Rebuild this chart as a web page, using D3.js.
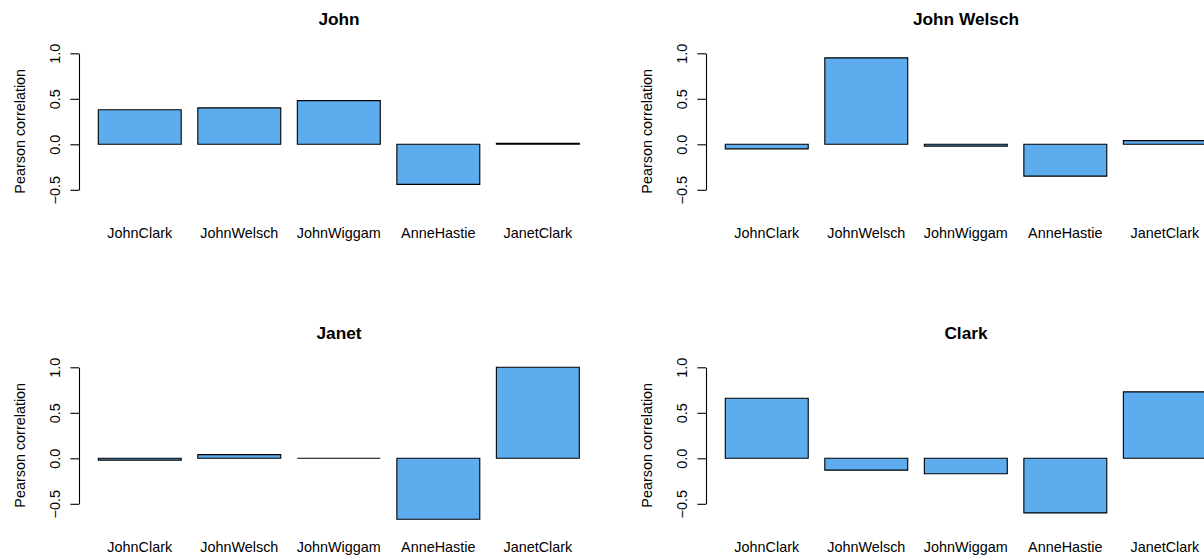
<!DOCTYPE html>
<html>
<head>
<meta charset="utf-8">
<script src="https://cdn.jsdelivr.net/npm/d3@7"></script>
<style>
  html, body { margin: 0; padding: 0; background: #fff; overflow: hidden; }
  svg { display: block; font-family: "Liberation Sans", Arial, Helvetica, sans-serif; }
</style>
</head>
<body>
<svg id="chart" width="1204" height="555"></svg>
<script>
// Correlation of each named profile with the five reference profiles
const categories = ["JohnClark", "JohnWelsch", "JohnWiggam", "AnneHastie", "JanetClark"];
const panelTitles = ["John", "John Welsch", "Janet", "Clark"];
const johnValues = [0.38, 0.40, 0.48, -0.44, 0.01];
const johnWelschValues = [-0.05, 0.95, -0.02, -0.35, 0.04];
const janetValues = [-0.02, 0.04, 0.00, -0.67, 1.00];
const clarkValues = [0.66, -0.13, -0.17, -0.60, 0.73];
const yTicks = [-0.5, 0.0, 0.5, 1.0];
const yTickLabels = ["\u22120.5", "0.0", "0.5", "1.0"];
const yAxisTitle = "Pearson correlation";

const panelValues = [johnValues, johnWelschValues, janetValues, clarkValues];

const svg = d3.select("#chart");
const panelW = 627, panelH = 314;
const plotLeft = 79, plotRight = 599;
const barFill = "#5CACEE";
const baseFont = 14.4;

// bar positions follow base-R barplot spacing (width 1, gap 0.2)
const x = d3.scaleBand()
  .domain(categories)
  .range([81.7, 595.9])
  .paddingInner(1 / 6)
  .paddingOuter(1 / 6);

const y = d3.scaleLinear()
  .domain([-0.5, 1.0])
  .range([189.8, 53.3]);

panelValues.forEach((vals, i) => {
  const col = i % 2, row = Math.floor(i / 2);
  const g = svg.append("g")
    .attr("transform", `translate(${col * panelW},${row * panelH})`);

  // title
  g.append("text")
    .attr("x", (plotLeft + plotRight) / 2)
    .attr("y", 25)
    .attr("text-anchor", "middle")
    .attr("font-weight", "bold")
    .attr("font-size", baseFont * 1.2)
    .attr("fill", "#000")
    .text(panelTitles[i]);

  // bars (paths so that zero-height bars still show their outline)
  const data = categories.map((c, k) => ({ c, v: vals[k] }));
  g.selectAll("path.bar")
    .data(data)
    .join("path")
    .attr("class", "bar")
    .attr("d", d => {
      const x0 = x(d.c), w = x.bandwidth();
      const y0 = y(0), y1 = y(d.v);
      return `M${x0},${y0}H${x0 + w}V${y1}H${x0}Z`;
    })
    .attr("fill", barFill)
    .attr("stroke", "#000")
    .attr("stroke-width", 1.1);

  // category labels
  g.selectAll("text.cat")
    .data(categories)
    .join("text")
    .attr("class", "cat")
    .attr("x", d => x(d) + x.bandwidth() / 2)
    .attr("y", 238)
    .attr("text-anchor", "middle")
    .attr("font-size", baseFont)
    .attr("fill", "#000")
    .text(d => d);

  // y axis
  const axis = d3.axisLeft(y)
    .tickValues(yTicks)
    .tickSize(8.6)
    .tickSizeOuter(0)
    .tickFormat((d, k) => yTickLabels[k]);

  const ax = g.append("g")
    .attr("transform", `translate(${plotLeft},0)`)
    .call(axis);
  ax.select(".domain").attr("stroke", "#000").attr("stroke-width", 1.1);
  ax.selectAll(".tick line").attr("stroke", "#000").attr("stroke-width", 1.1);
  ax.selectAll(".tick text")
    .attr("x", null)
    .attr("dy", null)
    .attr("text-anchor", "middle")
    .attr("transform", "translate(-19.5,0) rotate(-90)")
    .attr("font-size", baseFont)
    .attr("font-family", null)
    .attr("fill", "#000");

  // y axis title
  g.append("text")
    .attr("transform", "translate(24.5,131.3) rotate(-90)")
    .attr("text-anchor", "middle")
    .attr("font-size", baseFont)
    .attr("fill", "#000")
    .text(yAxisTitle);
});
</script>
</body>
</html>
